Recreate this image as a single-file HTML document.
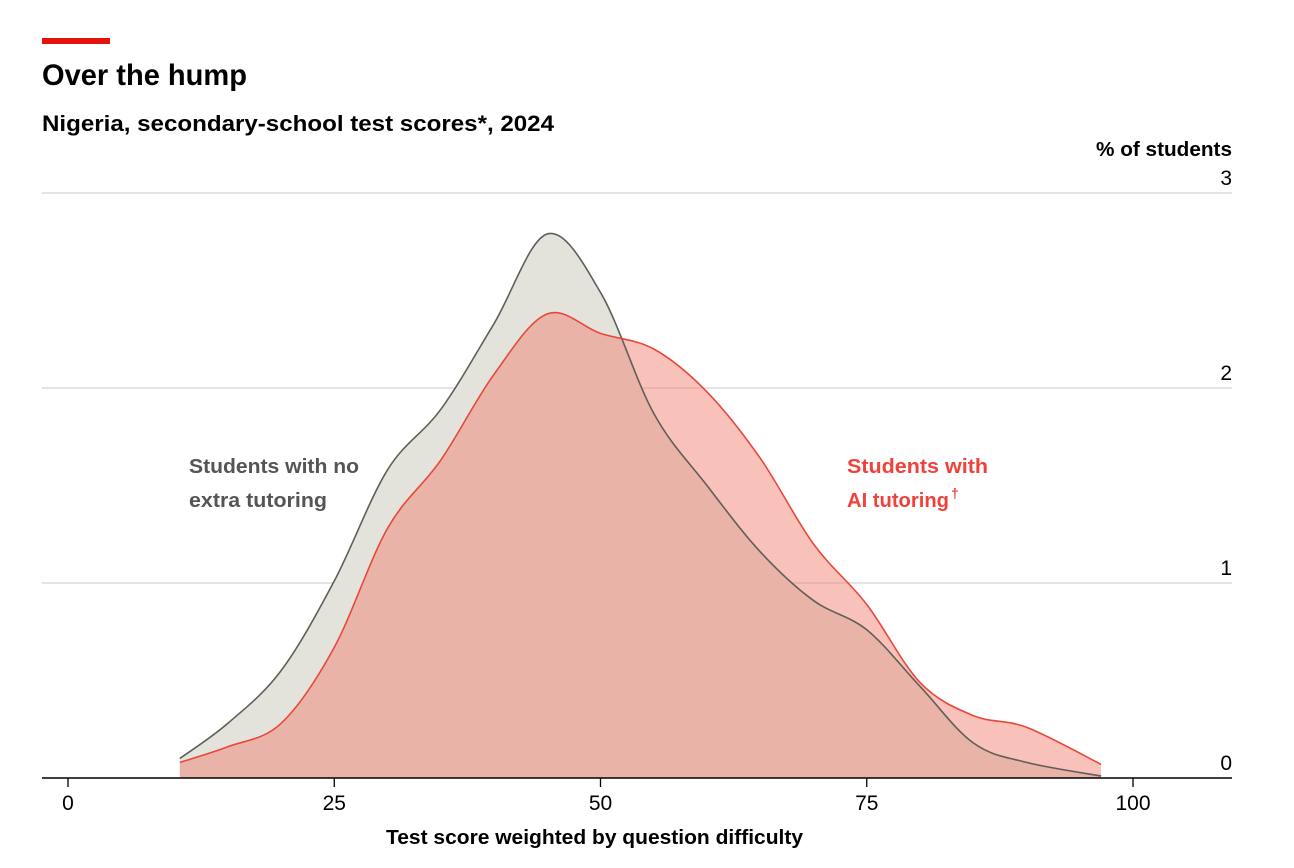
<!DOCTYPE html>
<html><head><meta charset="utf-8"><style>
body{margin:0;background:#fff;width:1294px;height:868px;overflow:hidden;font-family:"Liberation Sans",sans-serif}
</style></head><body>
<svg width="1294" height="868" style="position:absolute;left:0;top:0">
<rect x="42" y="38" width="68" height="6" fill="#e3120b"/>
<text x="42" y="85" font-size="30" font-weight="bold" fill="#000" textLength="205" lengthAdjust="spacingAndGlyphs">Over the hump</text>
<text x="42" y="131" font-size="22" font-weight="bold" fill="#000" textLength="512" lengthAdjust="spacingAndGlyphs">Nigeria, secondary-school test scores*, 2024</text>
<text x="1096" y="156" font-size="20" font-weight="bold" fill="#000" textLength="136" lengthAdjust="spacingAndGlyphs">% of students</text>
<g id="grid"></g>
<g id="areas"></g>
<g id="xaxis"></g>
<text x="189" y="473" font-size="20" font-weight="bold" fill="#555" textLength="170" lengthAdjust="spacingAndGlyphs">Students with no</text>
<text x="189" y="507" font-size="20" font-weight="bold" fill="#555" textLength="138" lengthAdjust="spacingAndGlyphs">extra tutoring</text>
<text x="847" y="473" font-size="20" font-weight="bold" fill="#f0413a" textLength="141" lengthAdjust="spacingAndGlyphs">Students with</text>
<text x="847" y="507" font-size="20" font-weight="bold" fill="#f0413a" textLength="102" lengthAdjust="spacingAndGlyphs">AI tutoring</text>
<text x="951" y="498" font-size="14" font-weight="bold" fill="#f0413a">†</text>
<text x="386" y="844" font-size="20" font-weight="bold" fill="#000" textLength="417" lengthAdjust="spacingAndGlyphs">Test score weighted by question difficulty</text>
</svg>
<script>
const scores=[10.5,15,20,25,30,35,40,45,50,55,60,65,70,75,80,85,90,97];
const noTutoring=[0.10,0.28,0.55,1.01,1.58,1.89,2.33,2.79,2.49,1.87,1.5,1.16,0.91,0.76,0.47,0.18,0.08,0.01];
const aiTutoring=[0.08,0.16,0.28,0.67,1.28,1.63,2.07,2.38,2.28,2.2,1.98,1.64,1.2,0.89,0.49,0.32,0.26,0.07];
const yTicks=[0,1,2,3];
const xTicks=[0,25,50,75,100];
const NS="http://www.w3.org/2000/svg";
const X=v=>68+v*10.65, Y=v=>778-v*195;
function mk(t,a,p){const e=document.createElementNS(NS,t);for(const k in a)e.setAttribute(k,a[k]);p.appendChild(e);return e;}
const grid=document.getElementById('grid');
yTicks.forEach(t=>{
  if(t>0){const l=mk('line',{x1:42,x2:1232,y1:Y(t),y2:Y(t),stroke:'#d4d4d4','stroke-width':1.3},grid);
  
  }
  const tx=mk('text',{x:1232,y:Y(t)-8,'font-size':21,'text-anchor':'end',fill:'#000'},grid);
  tx.textContent=t;
  
  
});
function path(xs,ys){
  const p=xs.map((x,i)=>[X(x),Y(ys[i])]);
  let d='M'+p[0][0]+','+p[0][1];
  for(let i=0;i<p.length-1;i++){
    const p0=p[Math.max(0,i-1)],p1=p[i],p2=p[i+1],p3=p[Math.min(p.length-1,i+2)];
    const c1=[p1[0]+(p2[0]-p0[0])/6,p1[1]+(p2[1]-p0[1])/6],c2=[p2[0]-(p3[0]-p1[0])/6,p2[1]-(p3[1]-p1[1])/6];
    d+=`C${c1[0]},${c1[1]} ${c2[0]},${c2[1]} ${p2[0]},${p2[1]}`;
  }
  return d;
}
const areas=document.getElementById('areas');
const base=()=>'L'+X(scores[scores.length-1])+','+Y(0)+'L'+X(scores[0])+','+Y(0)+'Z';
const ga=mk('path',{d:path(scores,noTutoring)+base(),fill:'#e4e3db'},areas);


const ra=mk('path',{d:path(scores,aiTutoring)+base(),fill:'#f08070','fill-opacity':0.48},areas);


const gl=mk('path',{d:path(scores,noTutoring),fill:'none',stroke:'#5f5f58','stroke-width':1.6},areas);


const rl=mk('path',{d:path(scores,aiTutoring),fill:'none',stroke:'#e8473c','stroke-width':1.6},areas);


const xa=document.getElementById('xaxis');
const ax=mk('line',{x1:42,x2:1232,y1:778,y2:778,stroke:'#000','stroke-width':1.5},xa);


xTicks.forEach(t=>{
  const tk=mk('line',{x1:X(t),x2:X(t),y1:778,y2:787,stroke:'#000','stroke-width':1.3},xa);
  
  
  const tx=mk('text',{x:X(t),y:810,'font-size':21,'text-anchor':'middle',fill:'#000'},xa);
  tx.textContent=t;
  
  
});
</script>
</body></html>
